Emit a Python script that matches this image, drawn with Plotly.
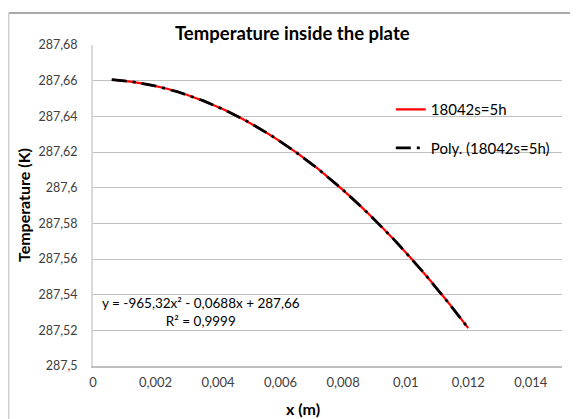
import numpy as np
import plotly.graph_objects as go

# data
x_m = [0.0006, 0.0012, 0.0018, 0.0024, 0.0030, 0.0036, 0.0042, 0.0048, 0.0054, 0.0060,
       0.0066, 0.0072, 0.0078, 0.0084, 0.0090, 0.0096, 0.0102, 0.0108, 0.0114, 0.0120]
temp_k = [287.6606, 287.6595, 287.6578, 287.6553, 287.6521, 287.6482, 287.6437, 287.6384,
          287.6325, 287.6258, 287.6185, 287.6105, 287.6017, 287.5923, 287.5822, 287.5714,
          287.5599, 287.5477, 287.5348, 287.5212]
series_name = "18042s=5h"
trend_name = "Poly. (18042s=5h)"

y_tickvals = [287.5, 287.52, 287.54, 287.56, 287.58, 287.6, 287.62, 287.64, 287.66, 287.68]
y_ticktext = ["287,5", "287,52", "287,54", "287,56", "287,58", "287,6", "287,62", "287,64", "287,66", "287,68"]
x_tickvals = [0, 0.002, 0.004, 0.006, 0.008, 0.01, 0.012, 0.014]
x_ticktext = ["0", "0,002", "0,004", "0,006", "0,008", "0,01", "0,012", "0,014"]
equation_text = "y = -965,32x² - 0,0688x + 287,66<br>R² = 0,9999"

# polynomial trendline (order 2) fitted to the data
coef = np.polyfit(x_m, temp_k, 2)
xt = np.linspace(min(x_m), max(x_m), 200)
yt = np.polyval(coef, xt)

FONT = "Lato"
W, H = 570, 411
L, R, T, B = 85, 16, 37, 53
PW, PH = W - L - R, H - T - B

fig = go.Figure()
fig.add_trace(go.Scatter(x=x_m, y=temp_k, mode="lines", name=series_name,
                         line=dict(color="#ff0000", width=2.2), legendgroup="a"))
fig.add_trace(go.Scatter(x=xt, y=yt, mode="lines", name=trend_name,
                         line=dict(color="#000000", width=2.8, dash="longdashdot"),
                         legendgroup="b"))

fig.update_layout(
    width=W, height=H,
    margin=dict(l=L, r=R, t=T, b=B, autoexpand=False),
    paper_bgcolor="white", plot_bgcolor="white",
    font=dict(family=FONT, size=13, color="#404040"),
    showlegend=True,
    legend=dict(x=0.635, y=0.85, xanchor="left", yanchor="top", itemwidth=30,
                bgcolor="rgba(0,0,0,0)", font=dict(family=FONT, size=15, color="#000000"),
                tracegroupgap=16),
    xaxis=dict(range=[0, 0.015], tickvals=x_tickvals, ticktext=x_ticktext, automargin=False,
               showgrid=False, zeroline=False, showline=True, linecolor="#bfbfbf", linewidth=1.5,
               ticks="", ticklabelstandoff=4, tickfont=dict(family=FONT, size=13, color="#404040")),
    yaxis=dict(range=[287.5, 287.68], tickvals=y_tickvals, ticktext=y_ticktext, automargin=False,
               showgrid=True, gridcolor="#c0c0c0", gridwidth=1, zeroline=False,
               showline=True, linecolor="#d9d9d9", linewidth=2, ticks="", ticklabelstandoff=11,
               tickfont=dict(family=FONT, size=12.5, color="#404040")),
)

# chart title and axis titles (positions in page pixels minus the 8px body offset)
fig.add_annotation(text="<b>Temperature inside the plate</b>", xref="paper", yref="paper",
                   x=0.426, y=1.0 + 12 / PH, xanchor="center", yanchor="middle",
                   showarrow=False, font=dict(family=FONT, size=18.5, color="#000000"))
fig.add_annotation(text="<b>x (m)</b>", xref="paper", yref="paper",
                   x=(295 - L) / PW, y=(358 - 400) / PH, xanchor="center", yanchor="middle",
                   showarrow=False, font=dict(family=FONT, size=16, color="#000000"))
fig.add_annotation(text="<b>Temperature (K)</b>", xref="paper", yref="paper", textangle=-90,
                   x=(15 - L) / PW, y=(358 - 197) / PH, xanchor="center", yanchor="middle",
                   showarrow=False, font=dict(family=FONT, size=16, color="#000000"))
fig.add_annotation(text=equation_text, xref="paper", yref="paper",
                   x=(193 - L) / PW, y=(358 - 304) / PH, xanchor="center", yanchor="middle",
                   showarrow=False, align="center", font=dict(family=FONT, size=13.5, color="#000000"))

# chart-area border (top and left visible)
xl = (0.75 - L) / PW
yt_ = 1 + (T - 5) / PH
fig.add_shape(type="line", xref="paper", yref="paper", x0=xl, x1=1.2,
              y0=yt_, y1=yt_, line=dict(color="#8c8c8c", width=1.5))
fig.add_shape(type="line", xref="paper", yref="paper", x0=xl, x1=xl,
              y0=yt_, y1=-0.3, line=dict(color="#d0d0d0", width=1.5))

fig.write_html("out.html")
